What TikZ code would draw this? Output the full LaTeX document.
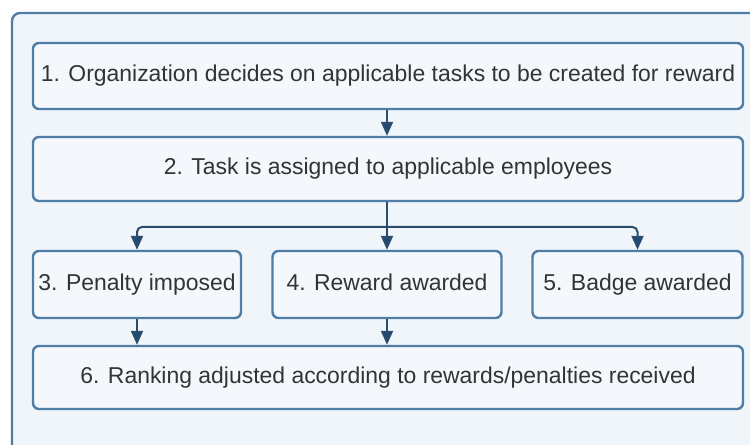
\documentclass[tikz,border=0pt]{standalone}
\usepackage{fontspec}
\setmainfont{Liberation Sans}
\usetikzlibrary{arrows.meta}
\definecolor{framebg}{HTML}{F0F5FA}
\definecolor{boxfill}{HTML}{F4F8FC}
\definecolor{boxline}{HTML}{4F7DA6}
\definecolor{linkline}{HTML}{2B4C6F}
\definecolor{tipfill}{HTML}{1F4A73}
\definecolor{txt}{HTML}{333333}
\def\pxu{0.75pt}
\tikzset{
  stepbox/.style={draw=boxline, line width=2.4*\pxu, fill=boxfill,
    rounded corners=6*\pxu, text=txt, inner sep=0pt,
    text height=12.3pt, text depth=3.6pt,
    font=\fontsize{17.2}{20}\selectfont},
  link/.style={draw=linkline, line width=2*\pxu,
    -{Triangle[width=12*\pxu,length=14*\pxu,fill=tipfill]}},
  plainlink/.style={draw=linkline, line width=2*\pxu}
}
\begin{document}
\begin{tikzpicture}[x=\pxu, y=-\pxu]
  \useasboundingbox (0,0) rectangle (750,445);
  \begin{scope}
    \clip (0,0) rectangle (750,445);
    % surrounding panel, running past the right and bottom edges
    \draw[draw=boxline, line width=2.4*\pxu, fill=framebg, rounded corners=8*\pxu]
      (12,13) rectangle (790,480);
  \end{scope}

  % process steps
  \node[stepbox, minimum width=710*\pxu, minimum height=66*\pxu] (s1) at (388,76)
    {1. Organization decides on applicable tasks to be created for reward};
  \node[stepbox, minimum width=710*\pxu, minimum height=64*\pxu] (s2) at (388,169)
    {2. Task is assigned to applicable employees};
  \node[stepbox, minimum width=208*\pxu, minimum height=67*\pxu] (s3) at (137,284.5)
    {3. Penalty imposed};
  \node[stepbox, minimum width=229*\pxu, minimum height=67*\pxu] (s4) at (387,284.5)
    {4. Reward awarded};
  \node[stepbox, minimum width=210*\pxu, minimum height=67*\pxu] (s5) at (637.5,284.5)
    {5. Badge awarded};
  \node[stepbox, minimum width=710*\pxu, minimum height=63*\pxu] (s6) at (388,377.5)
    {6. Ranking adjusted according to rewards/penalties received};

  % connectors
  \coordinate (split) at (387,227);
  \draw[link] (s1.south -| split) -- (s2.north -| split);
  \draw[plainlink] (s2.south -| split) -- (split);
  \draw[link, rounded corners=5*\pxu] (split) -| (s3.north);
  \draw[link, rounded corners=5*\pxu] (split) -| (s5.north);
  \draw[link] (split) -- (s4.north -| split);
  \draw[link] (s3.south) -- (s3.south |- s6.north);
  \draw[link] (s4.south -| split) -- (s6.north -| split);
\end{tikzpicture}
\end{document}
